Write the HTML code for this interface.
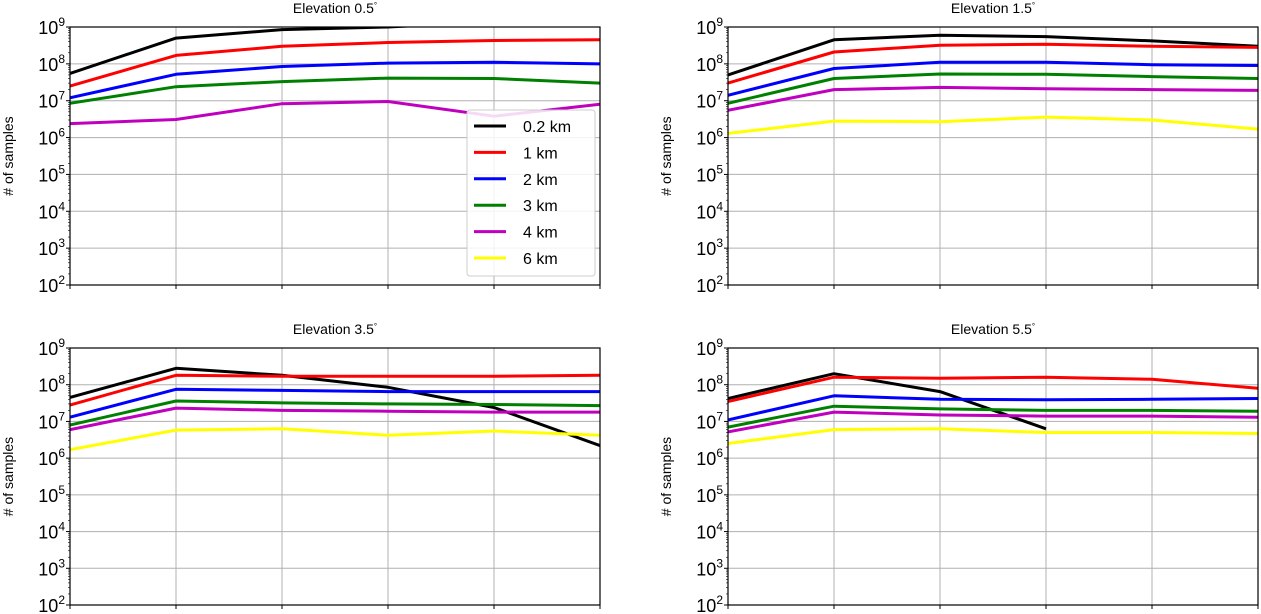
<!DOCTYPE html>
<html><head><meta charset="utf-8"><style>
body{margin:0;background:#fff;width:1261px;height:614px;overflow:hidden}
svg{display:block;font-family:"Liberation Sans","DejaVu Sans",sans-serif}
</style></head><body>
<svg id="fig" width="1261" height="614" viewBox="0 0 1261 614"></svg>
<script>
const seriesNames=["0.2 km","1 km","2 km","3 km","4 km","6 km"];
const seriesColors=["#000000","#ff0000","#0000ff","#008000","#bf00bf","#ffff00"];
const panelTitles=["Elevation 0.5","Elevation 1.5","Elevation 3.5","Elevation 5.5"];
const yTickExps=[2,3,4,5,6,7,8,9];
const xCategories=[0,1,2,3,4,5];
const panel1=[[5.5e7,5e8,8.5e8,1e9,1.4e9,1.6e9],[2.5e7,1.7e8,3e8,3.8e8,4.3e8,4.5e8],[1.2e7,5.2e7,8.5e7,1.05e8,1.1e8,1e8],[8.5e6,2.4e7,3.3e7,4.1e7,4e7,3e7],[2.4e6,3.1e6,8.3e6,9.5e6,3.8e6,8e6],[null,null,null,null,null,null]];
const panel2=[[5e7,4.5e8,6e8,5.5e8,4.2e8,3e8],[3e7,2.1e8,3.2e8,3.4e8,3e8,2.8e8],[1.4e7,7.5e7,1.1e8,1.1e8,9.5e7,9e7],[8.5e6,4e7,5.3e7,5.2e7,4.5e7,4e7],[5.5e6,2e7,2.3e7,2.1e7,2e7,1.9e7],[1.3e6,2.8e6,2.7e6,3.6e6,3e6,1.7e6]];
const panel3=[[4.5e7,2.8e8,1.8e8,8.5e7,2.4e7,2.2e6],[2.8e7,1.8e8,1.7e8,1.7e8,1.7e8,1.8e8],[1.3e7,7.5e7,7e7,6.5e7,6.5e7,6.5e7],[8e6,3.6e7,3.2e7,3e7,2.9e7,2.7e7],[6e6,2.3e7,2e7,1.9e7,1.8e7,1.8e7],[1.7e6,5.8e6,6.3e6,4.2e6,5.5e6,4.2e6]];
const panel4=[[4.2e7,2e8,6.5e7,6.3e6,null,null],[3.5e7,1.6e8,1.5e8,1.6e8,1.4e8,8e7],[1.1e7,5e7,4e7,3.9e7,4e7,4.2e7],[7e6,2.6e7,2.2e7,2e7,2e7,1.9e7],[5.2e6,1.8e7,1.5e7,1.4e7,1.4e7,1.3e7],[2.5e6,6e6,6.3e6,5e6,5e6,4.7e6]];
const panelData=[panel1,panel2,panel3,panel4];

const NS="http://www.w3.org/2000/svg";
const fig=document.getElementById('fig');
function mk(tag,attrs,parent){const e=document.createElementNS(NS,tag);for(const k in attrs)e.setAttribute(k,attrs[k]);(parent||fig).appendChild(e);return e;}
const boxes=[{x0:70,x1:600,y0:27,y1:285},{x0:728,x1:1258,y0:27,y1:285},{x0:70,x1:600,y0:348,y1:605},{x0:728,x1:1258,y0:348,y1:605}];
const defs=mk('defs',{});
boxes.forEach((b,i)=>{
  const sx=v=>b.x0+(b.x1-b.x0)*v/5;
  const sy=v=>b.y1-(b.y1-b.y0)*(Math.log10(v)-2)/7;
  const g=mk('g',{});
  
  
  const cp=mk('clipPath',{id:'cp'+i},defs);
  mk('rect',{x:b.x0,y:b.y0,width:b.x1-b.x0,height:b.y1-b.y0},cp);
  xCategories.forEach(c=>{const l=mk('line',{x1:sx(c),x2:sx(c),y1:b.y0,y2:b.y1,stroke:'#b0b0b0','stroke-width':1},g);
    const t=mk('line',{x1:sx(c),x2:sx(c),y1:b.y1,y2:b.y1+4,stroke:'#000','stroke-width':1},g);});
  yTickExps.forEach(e=>{const y=sy(Math.pow(10,e));
    const l=mk('line',{x1:b.x0,x2:b.x1,y1:y,y2:y,stroke:'#b0b0b0','stroke-width':1},g);
    mk('line',{x1:b.x0-4,x2:b.x0,y1:y,y2:y,stroke:'#000'},g);
    if(e<9){for(let m=2;m<10;m++){const ym=sy(m*Math.pow(10,e));mk('line',{x1:b.x0-2,x2:b.x0,y1:ym,y2:ym,stroke:'#000','stroke-width':0.6},g);}}
    const t=mk('text',{x:b.x0-5,y:y+7,'text-anchor':'end','font-size':18,fill:'#000'},g);
    
    t.textContent='10';const s=mk('tspan',{dy:-8,'font-size':12},t);s.textContent=String(e);});
  panelData[i].forEach((vals,si)=>{
    let d='',pen=false;
    vals.forEach((v,k)=>{if(v==null){pen=false;return;}d+=(pen?'L':'M')+sx(xCategories[k]).toFixed(1)+','+sy(v).toFixed(1);pen=true;});
    if(!d)return;
    const p=mk('path',{d:d,fill:'none',stroke:seriesColors[si],'stroke-width':3,'stroke-linejoin':'round','clip-path':'url(#cp'+i+')'},g);
    
    
  });
  const fr=mk('rect',{x:b.x0,y:b.y0,width:b.x1-b.x0,height:b.y1-b.y0,fill:'none',stroke:'#000','stroke-width':1.2},g);
  
  const tt=mk('text',{x:(b.x0+b.x1)/2,y:b.y0-14,'text-anchor':'middle','font-size':14,fill:'#000'},g);
  
  tt.textContent=panelTitles[i];const deg=mk('tspan',{dy:-5,'font-size':8},tt);deg.textContent='°';
  const yl=mk('text',{transform:'translate('+(b.x0-57)+','+((b.y0+b.y1)/2)+') rotate(-90)','text-anchor':'middle','font-size':14,fill:'#000'},g);
  
  yl.textContent='# of samples';
});
const lg=mk('g',{});

mk('rect',{x:467,y:110,width:128,height:166,rx:3,fill:'#fff','fill-opacity':0.85,stroke:'#cccccc'},lg);
seriesNames.forEach((n,i)=>{const y=126+i*26.4;
  const e=mk('g',{},lg);
  mk('line',{x1:474,x2:506,y1:y,y2:y,stroke:seriesColors[i],'stroke-width':3},e);
  const t=mk('text',{x:523,y:y+6,'font-size':16,fill:'#000'},e);t.textContent=n;});
</script>
</body></html>
